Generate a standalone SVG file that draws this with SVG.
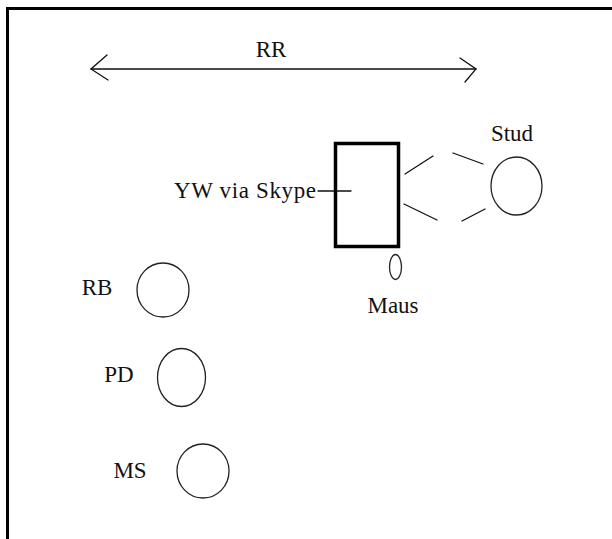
<svg xmlns="http://www.w3.org/2000/svg" width="612" height="539" viewBox="0 0 612 539">
  <style>
    text { font-family: "Liberation Serif", "DejaVu Serif", serif; font-size: 23px; fill: #111; }
    .seat { fill: none; stroke: #222; stroke-width: 1.3; }
    .line { fill: none; stroke: #111; stroke-width: 1.3; stroke-linecap: round; }
  </style>
  <rect x="0" y="0" width="612" height="539" fill="#fff"/>
  <!-- room outline -->
  <path d="M7.5 545 V8.5 H620" fill="none" stroke="#000" stroke-width="3"/>

  <g id="connectors">
    <!-- RR double arrow -->
    <path class="line" d="M91 69 H476" stroke-width="2"/>
    <path class="line" d="M107 55 L91 69 L108 80" stroke-width="2"/>
    <path class="line" d="M460 58 L476 69 L465 82" stroke-width="2"/>
    <!-- tick on screen -->
    <line class="line" x1="318" y1="191" x2="351" y2="191"/>
    <!-- dashed link to Stud -->
    <line class="line" x1="405" y1="174" x2="433" y2="156"/>
    <line class="line" x1="453" y1="153" x2="483" y2="164"/>
    <line class="line" x1="404" y1="204" x2="437" y2="220"/>
    <line class="line" x1="462" y1="221" x2="485" y2="209"/>
  </g>

  <g id="rr"><text x="271" y="57" text-anchor="middle">RR</text></g>

  <g id="screen">
    <rect x="335.5" y="143.5" width="63" height="103" fill="none" stroke="#000" stroke-width="3.5"/>
    <text x="174" y="198" textLength="142" lengthAdjust="spacing">YW via Skype</text>
  </g>

  <g id="stud">
    <ellipse class="seat" cx="516.5" cy="186" rx="25.5" ry="29"/>
    <text x="512" y="141" text-anchor="middle">Stud</text>
  </g>

  <g id="maus">
    <ellipse class="seat" cx="395.5" cy="267" rx="6" ry="12.5"/>
    <text x="393" y="313" text-anchor="middle">Maus</text>
  </g>

  <g id="rb">
    <ellipse class="seat" cx="163" cy="290" rx="26" ry="27"/>
    <text x="97" y="295" text-anchor="middle">RB</text>
  </g>

  <g id="pd">
    <ellipse class="seat" cx="181.5" cy="377.5" rx="24" ry="29"/>
    <text x="119" y="382" text-anchor="middle">PD</text>
  </g>

  <g id="ms">
    <ellipse class="seat" cx="203" cy="471" rx="26" ry="27"/>
    <text x="130" y="478" text-anchor="middle">MS</text>
  </g>
</svg>
